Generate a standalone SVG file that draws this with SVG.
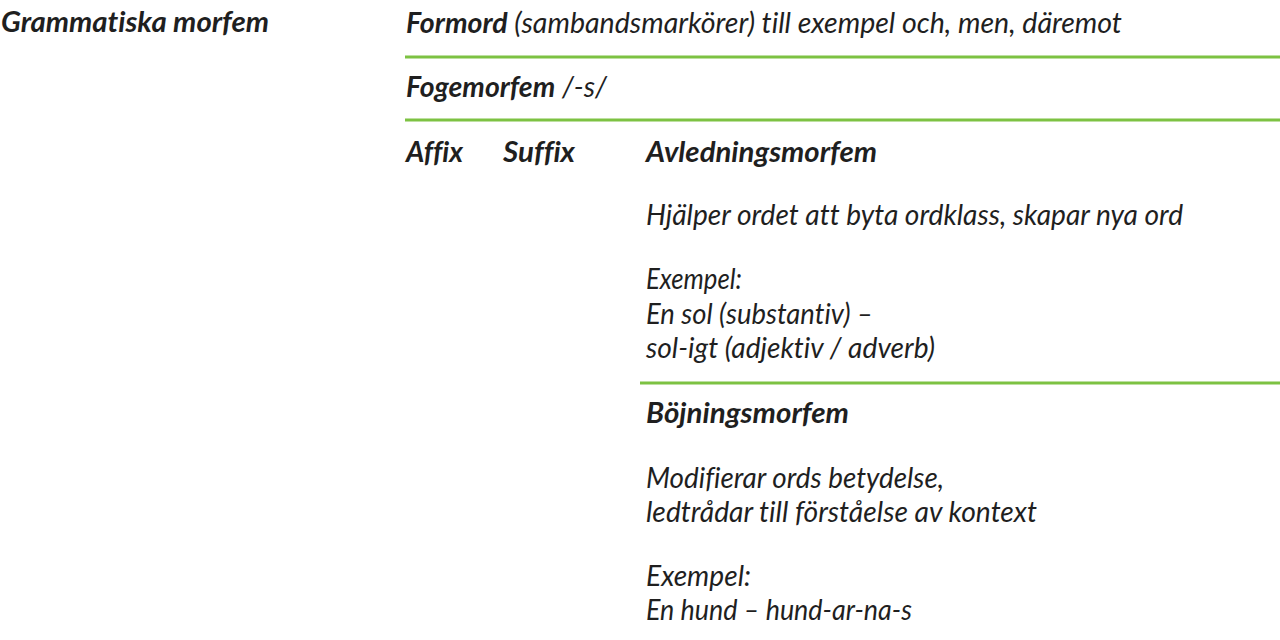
<svg xmlns="http://www.w3.org/2000/svg" width="1280" height="640" viewBox="0 0 1280 640">
<style>
text{font-family:Lato,"Source Sans Pro","Open Sans",sans-serif;font-style:italic;font-size:28px;fill:#1f1f1f;font-variant-ligatures:none;font-feature-settings:"liga" 0,"dlig" 0}
.b{font-weight:700}
.r{font-weight:400}
.rule{stroke:#7dc242;stroke-width:3;fill:none}
</style>
<rect width="1280" height="640" fill="#ffffff"/>
<g id="rules">
<line class="rule" x1="405" y1="57" x2="1280" y2="57"/>
<line class="rule" x1="405" y1="120" x2="1280" y2="120"/>
<line class="rule" x1="640" y1="383" x2="1280" y2="383"/>
</g>
<g id="grammatiska">
<text class="b" x="1" y="32" textLength="268" lengthAdjust="spacingAndGlyphs">Grammatiska morfem</text>
</g>
<g id="formord">
<text x="406" y="33" textLength="716" lengthAdjust="spacingAndGlyphs"><tspan class="b">Formord</tspan><tspan class="r"> (sambandsmarkörer) till exempel och, men, däremot</tspan></text>
</g>
<g id="fogemorfem">
<text x="406" y="97" textLength="201" lengthAdjust="spacingAndGlyphs"><tspan class="b">Fogemorfem</tspan><tspan class="r"> /-s/</tspan></text>
</g>
<g id="affix">
<text class="b" x="406" y="162" textLength="57" lengthAdjust="spacingAndGlyphs">Affix</text>
</g>
<g id="suffix">
<text class="b" x="503" y="162" textLength="72" lengthAdjust="spacingAndGlyphs">Suffix</text>
</g>
<g id="avledningsmorfem">
<text class="b" x="646" y="162" textLength="231" lengthAdjust="spacingAndGlyphs">Avledningsmorfem</text>
<text class="r" x="646" y="225" textLength="537" lengthAdjust="spacingAndGlyphs">Hjälper ordet att byta ordklass, skapar nya ord</text>
<text class="r" x="646" y="289" textLength="96" lengthAdjust="spacingAndGlyphs">Exempel:</text>
<text class="r" x="646" y="324" textLength="227" lengthAdjust="spacingAndGlyphs">En sol (substantiv) –</text>
<text class="r" x="646" y="358" textLength="289" lengthAdjust="spacingAndGlyphs">sol-igt (adjektiv / adverb)</text>
</g>
<g id="bojningsmorfem">
<text class="b" x="646" y="423" textLength="203" lengthAdjust="spacingAndGlyphs">Böjningsmorfem</text>
<text class="r" x="646" y="488" textLength="298" lengthAdjust="spacingAndGlyphs">Modifierar ords betydelse,</text>
<text class="r" x="646" y="522" textLength="391" lengthAdjust="spacingAndGlyphs">ledtrådar till förståelse av kontext</text>
<text class="r" x="646" y="586" textLength="105" lengthAdjust="spacingAndGlyphs">Exempel:</text>
<text class="r" x="646" y="620" textLength="266" lengthAdjust="spacingAndGlyphs">En hund – hund-ar-na-s</text>
</g>
</svg>
